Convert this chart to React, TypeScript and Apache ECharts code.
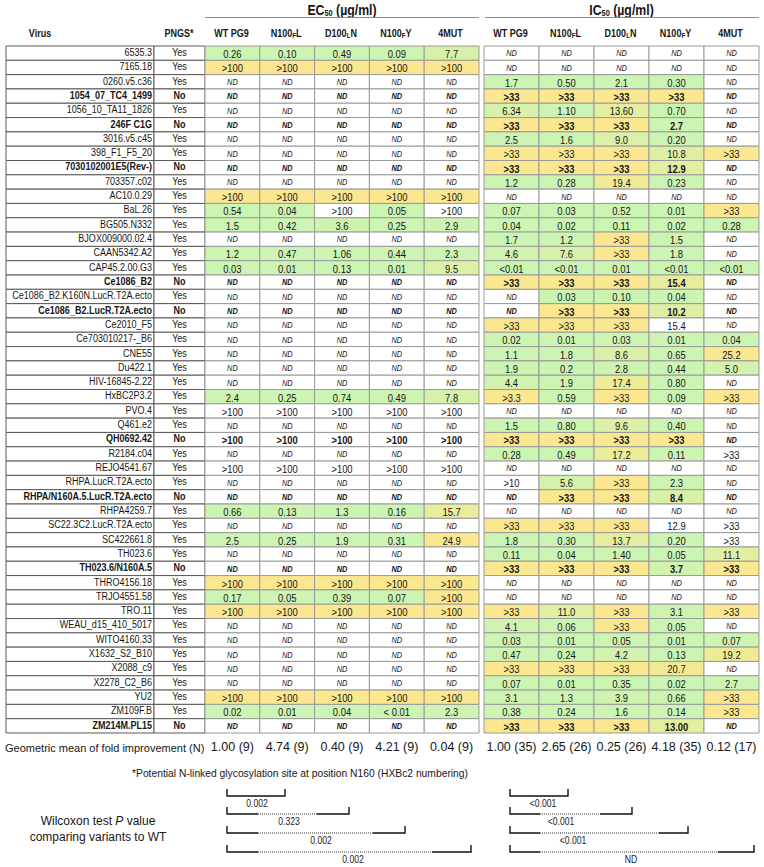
import React, { useEffect, useRef } from 'react';
import * as echarts from 'echarts';

const viruses = ['6535.3','7165.18','0260.v5.c36','1054_07_TC4_1499','1056_10_TA11_1826','246F C1G','3016.v5.c45','398_F1_F5_20','7030102001E5(Rev-)','703357.c02','AC10.0.29','BaL.26','BG505.N332','BJOX009000.02.4','CAAN5342.A2','CAP45.2.00.G3','Ce1086_B2','Ce1086_B2.K160N.LucR.T2A.ecto','Ce1086_B2.LucR.T2A.ecto','Ce2010_F5','Ce703010217-_B6','CNE55','Du422.1','HIV-16845-2.22','HxBC2P3.2','PVO.4','Q461.e2','QH0692.42','R2184.c04','REJO4541.67','RHPA.LucR.T2A.ecto','RHPA/N160A.5.LucR.T2A.ecto','RHPA4259.7','SC22.3C2.LucR.T2A.ecto','SC422661.8','TH023.6','TH023.6/N160A.5','THRO4156.18','TRJO4551.58','TRO.11','WEAU_d15_410_5017','WITO4160.33','X1632_S2_B10','X2088_c9','X2278_C2_B6','YU2','ZM109F.B','ZM214M.PL15'];

const pngs = ['Yes','Yes','Yes','No','Yes','No','Yes','Yes','No','Yes','Yes','Yes','Yes','Yes','Yes','Yes','No','Yes','No','Yes','Yes','Yes','Yes','Yes','Yes','Yes','Yes','No','Yes','Yes','Yes','No','Yes','Yes','Yes','Yes','No','Yes','Yes','Yes','Yes','Yes','Yes','Yes','Yes','Yes','Yes','No'];

const ecWT = ['0.26','>100','ND','ND','ND','ND','ND','ND','ND','ND','>100','0.54','1.5','ND','1.2','0.03','ND','ND','ND','ND','ND','ND','ND','ND','2.4','>100','ND','>100','ND','>100','ND','ND','0.66','ND','2.5','ND','ND','>100','0.17','>100','ND','ND','ND','ND','ND','>100','0.02','ND'];
const ecN100FL = ['0.10','>100','ND','ND','ND','ND','ND','ND','ND','ND','>100','0.04','0.42','ND','0.47','0.01','ND','ND','ND','ND','ND','ND','ND','ND','0.25','>100','ND','>100','ND','>100','ND','ND','0.13','ND','0.25','ND','ND','>100','0.05','>100','ND','ND','ND','ND','ND','>100','0.01','ND'];
const ecD100LN = ['0.49','>100','ND','ND','ND','ND','ND','ND','ND','ND','>100','>100','3.6','ND','1.06','0.13','ND','ND','ND','ND','ND','ND','ND','ND','0.74','>100','ND','>100','ND','>100','ND','ND','1.3','ND','1.9','ND','ND','>100','0.39','>100','ND','ND','ND','ND','ND','>100','0.04','ND'];
const ecN100FY = ['0.09','>100','ND','ND','ND','ND','ND','ND','ND','ND','>100','0.05','0.25','ND','0.44','0.01','ND','ND','ND','ND','ND','ND','ND','ND','0.49','>100','ND','>100','ND','>100','ND','ND','0.16','ND','0.31','ND','ND','>100','0.07','>100','ND','ND','ND','ND','ND','>100','< 0.01','ND'];
const ec4MUT = ['7.7','>100','ND','ND','ND','ND','ND','ND','ND','ND','>100','>100','2.9','ND','2.3','9.5','ND','ND','ND','ND','ND','ND','ND','ND','7.8','>100','ND','>100','ND','>100','ND','ND','15.7','ND','24.9','ND','ND','>100','>100','>100','ND','ND','ND','ND','ND','>100','2.3','ND'];

const icWT = ['ND','ND','1.7','>33','6.34','>33','2.5','>33','>33','1.2','ND','0.07','0.04','1.7','4.6','<0.01','>33','ND','ND','>33','0.02','1.1','1.9','4.4','>3.3','ND','1.5','>33','0.28','ND','>10','ND','ND','>33','1.8','0.11','>33','ND','ND','>33','4.1','0.03','0.47','>33','0.07','3.1','0.38','>33'];
const icN100FL = ['ND','ND','0.50','>33','1.10','>33','1.6','>33','>33','0.28','ND','0.03','0.02','1.2','7.6','<0.01','>33','0.03','>33','>33','0.01','1.8','0.2','1.9','0.59','ND','0.80','>33','0.49','ND','5.6','>33','ND','>33','0.30','0.04','>33','ND','ND','11.0','0.06','0.01','0.24','>33','0.01','1.3','0.24','>33'];
const icD100LN = ['ND','ND','2.1','>33','13.60','>33','9.0','>33','>33','19.4','ND','0.52','0.11','>33','>33','0.01','>33','0.10','>33','>33','0.03','8.6','2.8','17.4','>33','ND','9.6','>33','17.2','ND','>33','>33','ND','>33','13.7','1.40','>33','ND','ND','>33','>33','0.05','4.2','>33','0.35','3.9','1.6','>33'];
const icN100FY = ['ND','ND','0.30','>33','0.70','2.7','0.20','10.8','12.9','0.23','ND','0.01','0.02','1.5','1.8','<0.01','15.4','0.04','10.2','15.4','0.01','0.65','0.44','0.80','0.09','ND','0.40','>33','0.11','ND','2.3','8.4','ND','12.9','0.20','0.05','3.7','ND','ND','3.1','0.05','0.01','0.13','20.7','0.02','0.66','0.14','13.00'];
const ic4MUT = ['ND','ND','ND','ND','ND','ND','ND','>33','ND','ND','ND','>33','0.28','ND','ND','<0.01','ND','ND','ND','ND','0.04','25.2','5.0','ND','>33','ND','ND','ND','>33','ND','ND','ND','ND','>33','>33','11.1','>33','ND','ND','>33','ND','0.07','19.2','ND','2.7','>33','>33','ND'];

// cells printed without colour shading: [virus, column 0-9]
const unshaded: [string, number][] = [
  ['BaL.26', 2], ['BaL.26', 4],
  ['PVO.4', 0], ['PVO.4', 1], ['PVO.4', 2], ['PVO.4', 3], ['PVO.4', 4],
  ['QH0692.42', 0], ['QH0692.42', 1], ['QH0692.42', 2], ['QH0692.42', 3], ['QH0692.42', 4],
  ['REJO4541.67', 0], ['REJO4541.67', 1], ['REJO4541.67', 2], ['REJO4541.67', 3], ['REJO4541.67', 4],
  ['R2184.c04', 9], ['RHPA.LucR.T2A.ecto', 5], ['Ce2010_F5', 8],
  ['SC22.3C2.LucR.T2A.ecto', 8], ['SC22.3C2.LucR.T2A.ecto', 9], ['SC422661.8', 9],
];

const variantLabels = ['WT PG9', 'N100{s|F}L', 'D100{s|L}N', 'N100{s|F}Y', '4MUT'];
const ecGeoMean = ['1.00 (9)', '4.74 (9)', '0.40 (9)', '4.21 (9)', '0.04 (9)'];
const icGeoMean = ['1.00 (35)', '2.65 (26)', '0.25 (26)', '4.18 (35)', '0.12 (17)'];
const ecPValues = ['0.002', '0.323', '0.002', '0.002'];
const icPValues = ['<0.001', '<0.001', '<0.001', 'ND'];

const SANS = '"Liberation Sans", Arial, sans-serif';
const NARROW_X = 0.82; // emulate a condensed face
const GREEN = '#ccf4b3';
const YELLOW = '#fae78f';
const INK = '#161616';

const TOP = 46;
const HEIGHT = 687;
const G_NAME = { left: 6, width: 148 };
const G_PNGS = { left: 154, width: 51 };
const G_EC = { left: 205, width: 274 };
const G_IC = { left: 484, width: 275 };

function cellFill(text: string, shaded: boolean): string {
  if (!shaded || text === 'ND') return '#ffffff';
  if (text.startsWith('>')) return YELLOW;
  const v = parseFloat(text.replace(/[<\s]/g, ''));
  const t = Math.max(0, Math.min(1, (v - 2) / 22));
  return echarts.color.lerp(t, [GREEN, YELLOW]) as string;
}

type Cell = { col: number; row: number; text: string; fill: string; bold: boolean };

function buildCells(cols: string[][], offset: number): Cell[] {
  const out: Cell[] = [];
  cols.forEach((vals, c) => {
    vals.forEach((text, r) => {
      const shaded = !unshaded.some(([v, k]) => v === viruses[r] && k === c + offset);
      out.push({ col: c, row: r, text, fill: cellFill(text, shaded), bold: pngs[r] === 'No' });
    });
  });
  return out;
}

function dataRender(cells: Cell[]) {
  return (params: any, api: any) => {
    const c = cells[params.dataIndex];
    const p = api.coord([api.value(0), api.value(1)]);
    const s = api.size([1, 1]);
    const nd = c.text === 'ND';
    return {
      type: 'group',
      children: [
        { type: 'rect', z2: 0, shape: { x: p[0] - s[0] / 2, y: p[1] - s[1] / 2, width: s[0], height: s[1] }, style: { fill: c.fill, stroke: '#9a9a9a', lineWidth: 1 } },
        { type: 'text', z2: 10, x: p[0], y: p[1] + 0.5, scaleX: NARROW_X, style: { text: c.text, align: 'center', verticalAlign: 'middle', fontFamily: SANS, fontSize: nd ? 9 : 11.5, fontStyle: nd ? 'italic' : 'normal', fontWeight: c.bold ? 'bold' : 'normal', fill: INK } },
      ],
    };
  };
}

function labelRender(texts: string[], alignRight: boolean) {
  return (params: any, api: any) => {
    const i = params.dataIndex;
    const p = api.coord([api.value(0), api.value(1)]);
    const s = api.size([1, 1]);
    const x0 = p[0] - s[0] / 2;
    return {
      type: 'group',
      children: [
        { type: 'rect', z2: 0, shape: { x: x0, y: p[1] - s[1] / 2, width: s[0], height: s[1] }, style: { fill: '#fff', stroke: '#5a5a5a', lineWidth: 1 } },
        { type: 'text', z2: 10, x: alignRight ? x0 + s[0] - 2 : p[0], y: p[1] - 1, scaleX: NARROW_X, style: { text: texts[i], align: alignRight ? 'right' : 'center', verticalAlign: 'middle', fontFamily: SANS, fontSize: 11, fontWeight: pngs[i] === 'No' ? 'bold' : 'normal', fill: INK } },
      ],
    };
  };
}

function bracketGraphics(pvals: string[], start: number, solidEnd: number, dotEnds: number[], ends: number[], labelX: number[], ys: number[]) {
  const els: any[] = [];
  pvals.forEach((pv, i) => {
    const y = ys[i];
    const e = ends[i];
    if (i === 0) {
      els.push({ type: 'polyline', shape: { points: [[start, y - 7], [start, y], [e, y], [e, y - 7]] }, style: { stroke: '#111', lineWidth: 1.4, fill: null } });
    } else {
      els.push({ type: 'polyline', shape: { points: [[start, y - 7], [start, y], [solidEnd, y]] }, style: { stroke: '#111', lineWidth: 1.4, fill: null } });
      els.push({ type: 'line', shape: { x1: solidEnd, y1: y, x2: dotEnds[i], y2: y }, style: { stroke: '#333', lineWidth: 1, lineDash: [1, 1] } });
      els.push({ type: 'polyline', shape: { points: [[dotEnds[i], y], [e, y], [e, y - 7]] }, style: { stroke: '#111', lineWidth: 1.4, fill: null } });
    }
    els.push({ type: 'text', x: labelX[i], y: y + 8, scaleX: 0.86, style: { text: pv, align: 'center', verticalAlign: 'middle', fontFamily: SANS, fontSize: 10, fill: '#222' } });
  });
  return els;
}

function headerGraphics(g: { left: number; width: number }) {
  const w = g.width / variantLabels.length;
  return variantLabels.map((lab, i) => ({
    type: 'text', x: g.left + (i + 0.5) * w - 1, y: 33, scaleX: NARROW_X,
    style: {
      text: lab, align: 'center', verticalAlign: 'middle', fontFamily: SANS, fontWeight: 'bold', fontSize: 11, fill: INK,
      rich: { s: { fontFamily: SANS, fontWeight: 'bold', fontSize: 7.5, fill: INK, padding: [5, 0, 0, 0] } },
    },
  }));
}

function buildOption(): any {
  const ecCells = buildCells([ecWT, ecN100FL, ecD100LN, ecN100FY, ec4MUT], 0);
  const icCells = buildCells([icWT, icN100FL, icD100LN, icN100FY, ic4MUT], 5);
  const grids = [G_NAME, G_PNGS, G_EC, G_IC].map((g) => ({ ...g, top: TOP, height: HEIGHT }));

  const geoLabel = { margin: 7, interval: 0, fontFamily: SANS, fontSize: 12.5, color: INK };
  const hidden = { axisLine: { show: false }, axisTick: { show: false }, splitLine: { show: false } };

  const xAxis = [
    { gridIndex: 0, type: 'category', data: ['Virus'], show: false },
    { gridIndex: 1, type: 'category', data: ['PNGS*'], show: false },
    { gridIndex: 2, type: 'category', data: variantLabels, position: 'top', show: false },
    { gridIndex: 3, type: 'category', data: variantLabels, position: 'top', show: false },
    { gridIndex: 2, type: 'category', data: ecGeoMean, position: 'bottom', ...hidden, axisLabel: geoLabel },
    { gridIndex: 3, type: 'category', data: icGeoMean, position: 'bottom', ...hidden, axisLabel: geoLabel },
  ];
  const yAxis = [0, 1, 2, 3].map((g) => ({ gridIndex: g, type: 'category', data: viruses, inverse: true, show: false }));

  const titleRich = {
    sub: { fontFamily: SANS, fontWeight: 'bold', fontSize: 9, fill: INK, padding: [7, 0, 0, 0] },
  };
  const ecMid = G_EC.left + G_EC.width / 2;
  const icMid = G_IC.left + G_IC.width / 2;

  const graphic: any[] = [
    { type: 'text', x: ecMid, y: 10, scaleX: NARROW_X, style: { text: 'EC{sub|50} (\u00b5g/ml)', rich: titleRich, align: 'center', verticalAlign: 'middle', fontFamily: SANS, fontWeight: 'bold', fontSize: 15, fill: INK } },
    { type: 'text', x: icMid, y: 10, scaleX: NARROW_X, style: { text: 'IC{sub|50} (\u00b5g/ml)', rich: titleRich, align: 'center', verticalAlign: 'middle', fontFamily: SANS, fontWeight: 'bold', fontSize: 15, fill: INK } },
    { type: 'line', shape: { x1: G_EC.left, y1: 17.5, x2: G_EC.left + G_EC.width, y2: 17.5 }, style: { stroke: '#8a8a8a', lineWidth: 1 } },
    { type: 'line', shape: { x1: G_IC.left + 1, y1: 17.5, x2: G_IC.left + G_IC.width, y2: 17.5 }, style: { stroke: '#8a8a8a', lineWidth: 1 } },
    { type: 'text', x: 40, y: 33, scaleX: NARROW_X, style: { text: 'Virus', align: 'center', verticalAlign: 'middle', fontFamily: SANS, fontWeight: 'bold', fontSize: 11, fill: INK } },
    { type: 'text', x: 179, y: 33, scaleX: NARROW_X, style: { text: 'PNGS*', align: 'center', verticalAlign: 'middle', fontFamily: SANS, fontWeight: 'bold', fontSize: 11, fill: INK } },
    ...headerGraphics(G_EC),
    ...headerGraphics(G_IC),
    { type: 'text', x: 5, y: 748, style: { text: 'Geometric mean of fold improvement (N)', align: 'left', verticalAlign: 'middle', fontFamily: SANS, fontSize: 11, fill: INK } },
    { type: 'text', x: 300, y: 773, style: { text: '*Potential N-linked glycosylation site at position N160 (HXBc2 numbering)', align: 'center', verticalAlign: 'middle', fontFamily: SANS, fontSize: 10.3, fill: INK } },
    { type: 'text', x: 98, y: 821, style: { text: 'Wilcoxon test {i|P} value', rich: { i: { fontFamily: SANS, fontStyle: 'italic', fontSize: 12, fill: INK } }, align: 'center', verticalAlign: 'middle', fontFamily: SANS, fontSize: 12, fill: INK } },
    { type: 'text', x: 98, y: 837, style: { text: 'comparing variants to WT', align: 'center', verticalAlign: 'middle', fontFamily: SANS, fontSize: 12, fill: INK } },
    ...bracketGraphics(ecPValues, 227, 258, [0, 317, 373, 432], [285, 349, 405, 471], [257, 289, 321, 353], [796, 814, 833, 852]),
    ...bracketGraphics(icPValues, 510, 540, [0, 600, 659, 718], [568, 632, 688, 754], [543, 561, 573, 631], [796, 814, 833, 852]),
  ];

  return {
    animation: false,
    backgroundColor: '#fff',
    grid: grids,
    xAxis,
    yAxis,
    graphic,
    series: [
      { type: 'custom', xAxisIndex: 0, yAxisIndex: 0, silent: true, data: viruses.map((_, i) => [0, i]), renderItem: labelRender(viruses, true) },
      { type: 'custom', xAxisIndex: 1, yAxisIndex: 1, silent: true, data: pngs.map((_, i) => [0, i]), renderItem: labelRender(pngs, false) },
      { type: 'custom', xAxisIndex: 2, yAxisIndex: 2, silent: true, data: ecCells.map((c) => [c.col, c.row]), renderItem: dataRender(ecCells) },
      { type: 'custom', xAxisIndex: 3, yAxisIndex: 3, silent: true, data: icCells.map((c) => [c.col, c.row]), renderItem: dataRender(icCells) },
    ],
  };
}

export default function App() {
  const ref = useRef<HTMLDivElement>(null);
  useEffect(() => {
    const chart = echarts.init(ref.current as HTMLDivElement, null, { renderer: 'svg' });
    chart.setOption(buildOption());
    return () => chart.dispose();
  }, []);
  return <div ref={ref} style={{ position: 'absolute', left: 0, top: 0, width: 764, height: 867, background: '#fff' }} />;
}
